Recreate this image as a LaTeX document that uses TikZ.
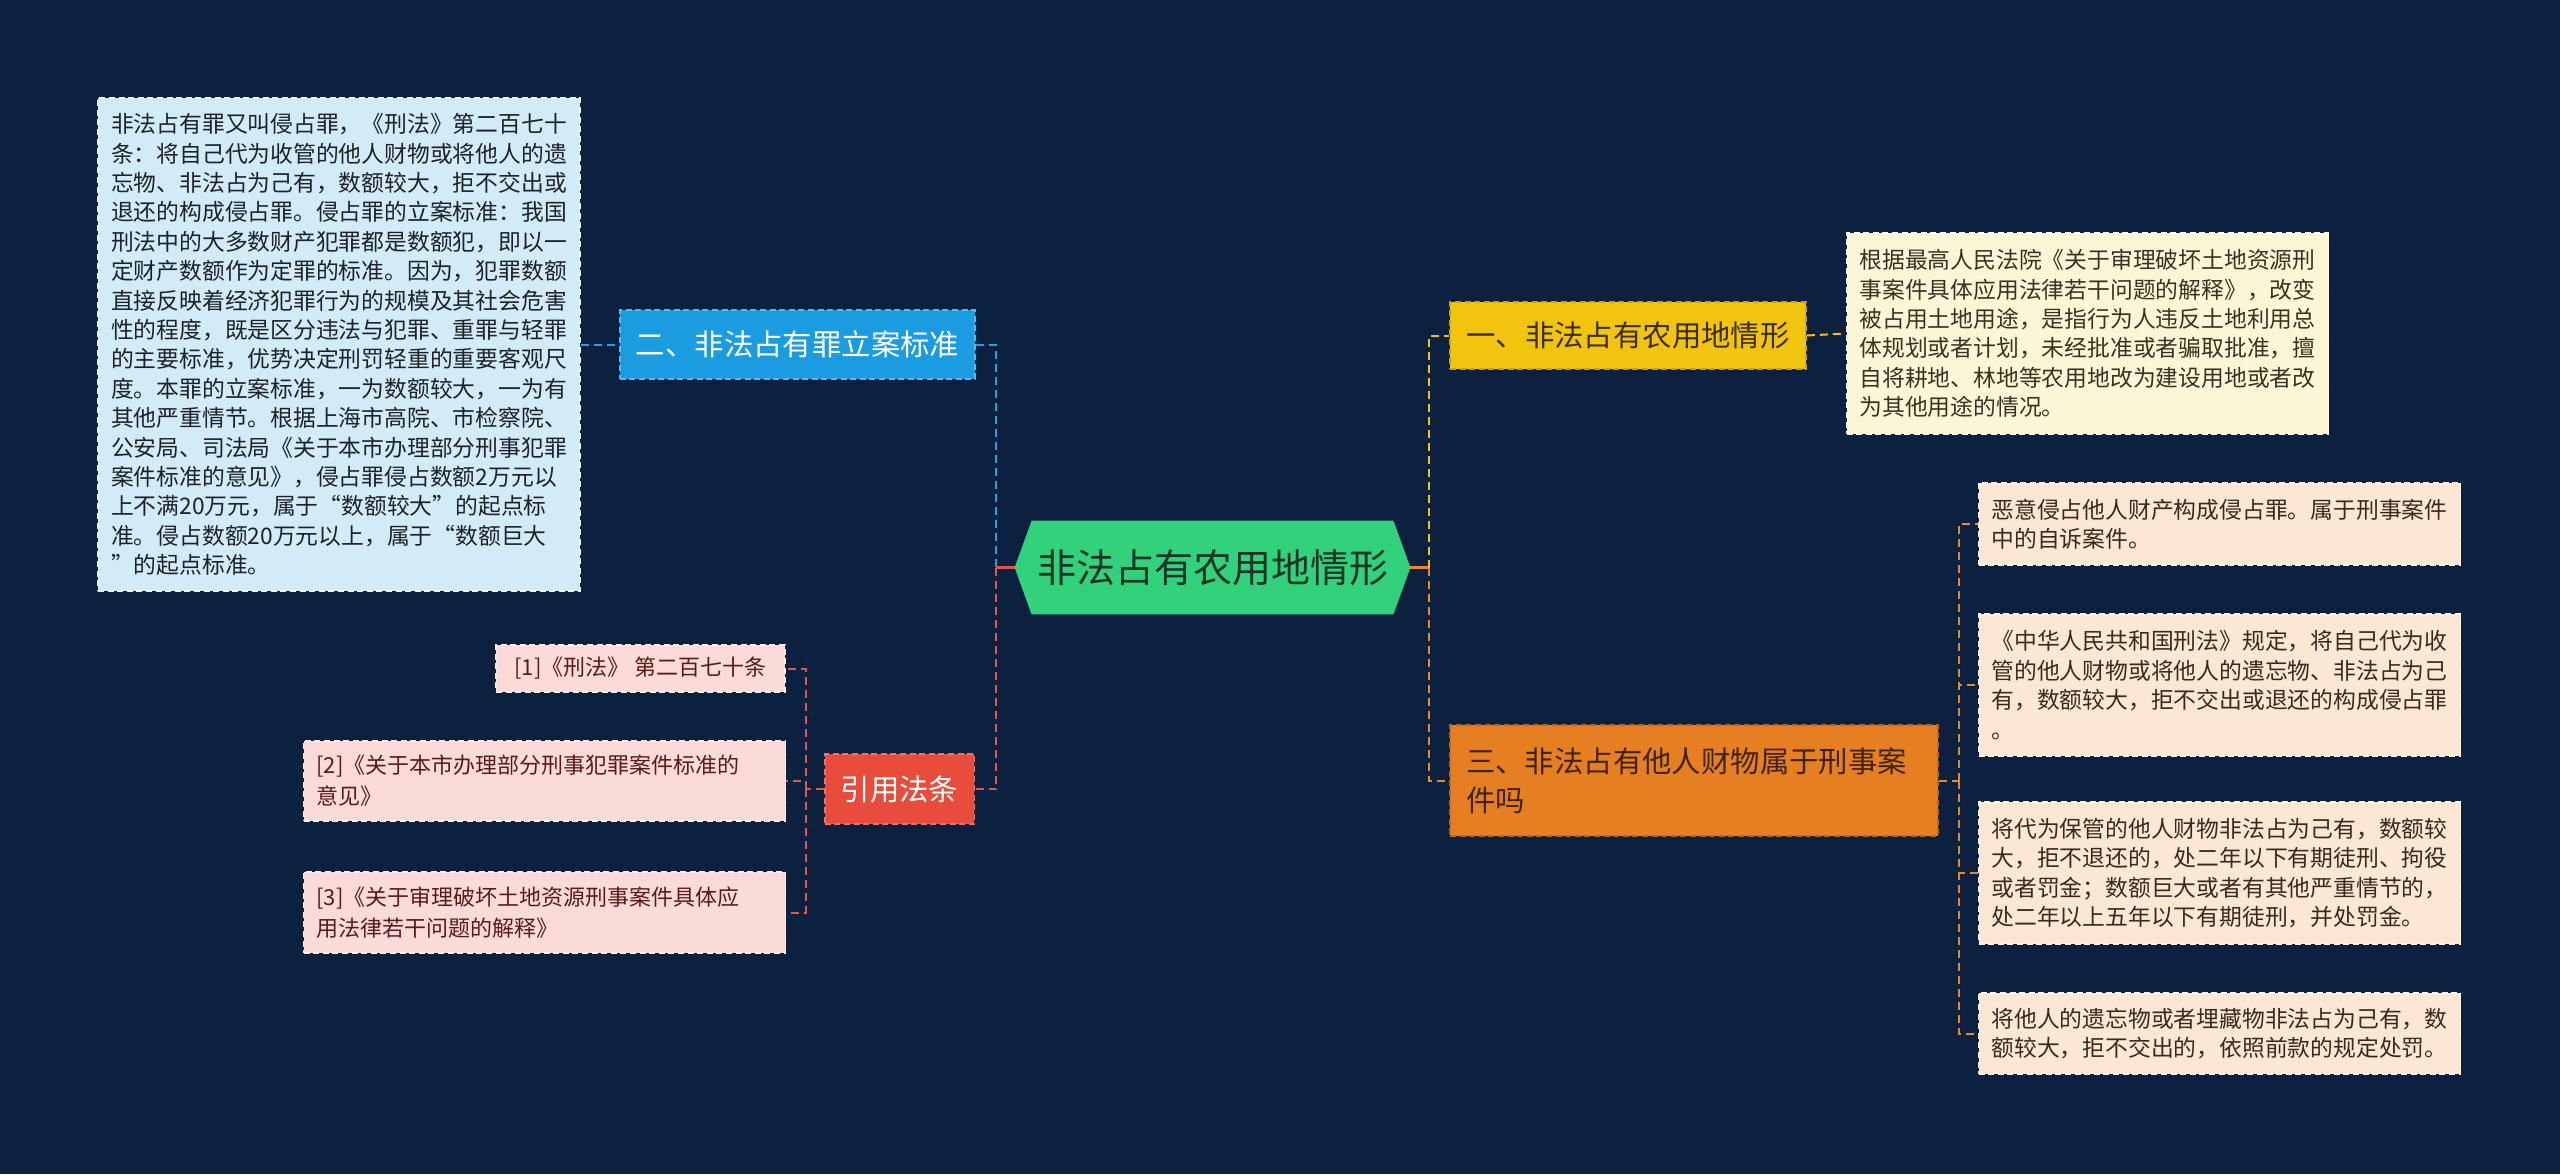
\documentclass[tikz,border=0pt]{standalone}
\usepackage{fontspec}
\setmainfont{Noto Sans CJK SC}
\usetikzlibrary{backgrounds}
\definecolor{bg}{HTML}{0B213F}
\definecolor{greenF}{HTML}{31D27B}
\definecolor{greenT}{HTML}{1A3426}
\definecolor{blueF}{HTML}{1B9CE0}
\definecolor{blueB}{HTML}{5CB8EA}
\definecolor{blueC}{HTML}{2A9FE0}
\definecolor{ltF}{HTML}{D2EBF8}
\definecolor{ltB}{HTML}{EAF5FC}
\definecolor{ltT}{HTML}{1E2226}
\definecolor{yelF}{HTML}{F1C40F}
\definecolor{yelB}{HTML}{C9A20C}
\definecolor{yelT}{HTML}{3B2E05}
\definecolor{yelC}{HTML}{F1C40F}
\definecolor{crF}{HTML}{FDF6D6}
\definecolor{crB}{HTML}{FFFBEA}
\definecolor{crT}{HTML}{3A3122}
\definecolor{orF}{HTML}{E67E22}
\definecolor{orB}{HTML}{B8651B}
\definecolor{orT}{HTML}{3E2410}
\definecolor{orC}{HTML}{E68A2E}
\definecolor{peF}{HTML}{FCE6D4}
\definecolor{peB}{HTML}{FFF3EA}
\definecolor{peT}{HTML}{3A2A1E}
\definecolor{redF}{HTML}{E74C3C}
\definecolor{redB}{HTML}{EE7468}
\definecolor{redC}{HTML}{E2574C}
\definecolor{piF}{HTML}{FADBD8}
\definecolor{piB}{HTML}{FDEDEB}
\definecolor{piT}{HTML}{5A1A1A}
\newcommand\myfs[2]{\fontsize{#1}{#2}\selectfont}
\begin{document}
\begin{tikzpicture}[x=0.5pt,y=-0.5pt,
  tb/.style={draw, dash pattern=on 3pt off 1.8pt, line width=0.8pt, align=left,
    inner xsep=6.5pt, inner ysep=0pt, text width=228pt, font=\myfs{11.4pt}{14.7pt}},
  kb/.style={draw=piB, fill=piF, text=piT, dash pattern=on 3pt off 1.8pt, line width=0.8pt, align=left,
    inner xsep=6.5pt, inner ysep=0pt, font=\myfs{11pt}{15.4pt}},
  pb/.style={tb, fill=peF, draw=peB, text=peT},
  lbl/.style={draw, dash pattern=on 3pt off 1.8pt, line width=0.8pt, align=left,
    inner xsep=8pt, inner ysep=0pt, font=\myfs{14.7pt}{19.5pt}},
  conn/.style={line width=1pt, dash pattern=on 4pt off 2.5pt},
  stub/.style={line width=1.2pt}]
\useasboundingbox (0,0) rectangle (2560,1174);

% centre
\node[font=\myfs{19.5pt}{22pt}, text=greenT, minimum width=197.5pt, minimum height=46.5pt, inner sep=0pt]
  (center) at (1212.5,567.5) {非法占有农用地情形};

% left side
\node[tb, fill=ltF, draw=ltB, text=ltT, minimum height=246.5pt] (lt) at (339,344.5)
 {非法占有罪又叫侵占罪，《刑法》第二百七十\\
  条：将自己代为收管的他人财物或将他人的遗\\
  忘物、非法占为己有，数额较大，拒不交出或\\
  退还的构成侵占罪。侵占罪的立案标准：我国\\
  刑法中的大多数财产犯罪都是数额犯，即以一\\
  定财产数额作为定罪的标准。因为，犯罪数额\\
  直接反映着经济犯罪行为的规模及其社会危害\\
  性的程度，既是区分违法与犯罪、重罪与轻罪\\
  的主要标准，优势决定刑罚轻重的重要客观尺\\
  度。本罪的立案标准，一为数额较大，一为有\\
  其他严重情节。根据上海市高院、市检察院、\\
  公安局、司法局《关于本市办理部分刑事犯罪\\
  案件标准的意见》，侵占罪侵占数额2万元以\\
  上不满20万元，属于“数额较大”的起点标\\
  准。侵占数额20万元以上，属于“数额巨大\\
  ”的起点标准。};

\node[lbl, fill=blueF, draw=blueB, text=white, minimum width=177.5pt, minimum height=34.5pt]
  (blue) at (797.5,344.5) {二、非法占有罪立案标准};

\node[lbl, fill=redF, draw=redB, text=white, minimum width=73.5pt, minimum height=35pt, align=center]
  (red) at (899.5,789) {引用法条};

\node[kb, minimum width=144.5pt, minimum height=23.5pt] (k1) at (640.5,668.5) {[1]《刑法》 第二百七十条};
\node[kb, text width=228pt, minimum height=40pt] (k2) at (544.5,781)
 {[2]《关于本市办理部分刑事犯罪案件标准的\\意见》};
\node[kb, text width=228pt, minimum height=40.5pt] (k3) at (544.5,912.5)
 {[3]《关于审理破坏土地资源刑事案件具体应\\用法律若干问题的解释》};

% right side
\node[lbl, fill=yelF, draw=yelB, text=yelT, minimum width=178pt, minimum height=33.5pt]
  (yel) at (1628,335.5) {一、非法占有农用地情形};

\node[tb, fill=crF, draw=crB, text=crT, minimum height=100.5pt] (cr) at (2087.5,333.5)
 {根据最高人民法院《关于审理破坏土地资源刑\\
  事案件具体应用法律若干问题的解释》，改变\\
  被占用土地用途，是指行为人违反土地利用总\\
  体规划或者计划，未经批准或者骗取批准，擅\\
  自将耕地、林地等农用地改为建设用地或者改\\
  为其他用途的情况。};

\node[lbl, fill=orF, draw=orB, text=orT, text width=228pt, minimum height=55.5pt]
  (ora) at (1694,780.5) {三、非法占有他人财物属于刑事案\\件吗};

\node[pb, minimum height=41pt] (p1) at (2219.5,524)
 {恶意侵占他人财产构成侵占罪。属于刑事案件\\中的自诉案件。};
\node[pb, minimum height=71pt] (p2) at (2219.5,685)
 {《中华人民共和国刑法》规定，将自己代为收\\
  管的他人财物或将他人的遗忘物、非法占为己\\
  有，数额较大，拒不交出或退还的构成侵占罪\\
  。};
\node[pb, minimum height=71pt] (p3) at (2219.5,873)
 {将代为保管的他人财物非法占为己有，数额较\\
  大，拒不退还的，处二年以下有期徒刑、拘役\\
  或者罚金；数额巨大或者有其他严重情节的，\\
  处二年以上五年以下有期徒刑，并处罚金。};
\node[pb, minimum height=40.5pt] (p4) at (2219.5,1033.5)
 {将他人的遗忘物或者埋藏物非法占为己有，数\\额较大，拒不交出的，依照前款的规定处罚。};

% trunk coordinates
\coordinate (tL) at (996,567.5);
\coordinate (tR) at (1429,567.5);
\coordinate (tK) at (805.5,789);
\coordinate (tP) at (1958.5,780.5);

% connectors
\draw[conn, blueC] (lt.east) -- (blue.west);
\draw[conn, blueC] (blue.east) -| (tL);
\draw[stub, redC] (tL) -- (center.west);
\draw[conn, redC] (tL) |- (red.east);
\draw[conn, redC] (red.west) -- (tK);
\draw[conn, redC] (tK) |- (k1.east);
\draw[conn, redC] (tK) |- (k2.east);
\draw[conn, redC] (tK) |- (k3.east);

\draw[stub, orC] (center.east) -- (tR);
\draw[conn, yelC] (tR) |- (yel.west);
\draw[conn, yelC] (yel.east) -- (cr.west);
\draw[conn, orC] (tR) |- (ora.west);
\draw[conn, orC] (ora.east) -- (tP);
\draw[conn, orC] (tP) |- (p1.west);
\draw[conn, orC] (tP) |- (p2.west);
\draw[conn, orC] (tP) |- (p3.west);
\draw[conn, orC] (tP) |- (p4.west);

\begin{scope}[on background layer]
  \fill[bg] (0,0) rectangle (2560,1174);
  \fill[greenF] (center.west) -- ([xshift=8.5pt]center.north west) -- ([xshift=-8.5pt]center.north east)
    -- (center.east) -- ([xshift=-8.5pt]center.south east) -- ([xshift=8.5pt]center.south west) -- cycle;
\end{scope}
\end{tikzpicture}
\end{document}
